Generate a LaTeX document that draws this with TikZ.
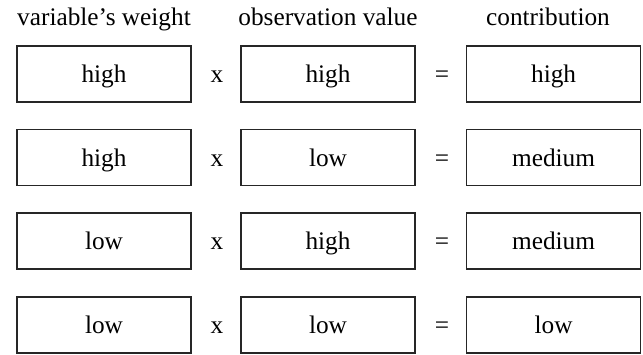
\documentclass[tikz,border=0pt]{standalone}
\usepackage{fontspec}
\setmainfont{Liberation Serif}
\newfontfamily\timesfont{Liberation Serif}
\usepackage{tikz}
\usetikzlibrary{positioning}

\begin{document}
\begin{tikzpicture}[
    font=\timesfont\fontsize{18}{22}\selectfont,
    valbox/.style={
        rectangle,
        draw=black!85,
        line width=1.1pt,
        minimum width=4.35cm,
        minimum height=1.4cm,
        text height=16pt,
        text depth=3.6pt,
        inner sep=0pt
    },
    header/.style={anchor=base},
    op/.style={inner sep=0pt, text height=16pt, text depth=3.6pt}
]
\useasboundingbox (0,0) rectangle (16.075,8.85);

% column headers
\node[header] (hweight)  at (2.6,  8.22)  {variable’s weight};
\node[header] (hobs)     at (8.2,  8.22)  {observation value};
\node[header] (hcontrib) at (13.7, 8.22)  {contribution};

% row 1
\node[valbox] (w1) at (2.6,  7.0) {high};
\node[op]     (x1) at (5.425,7.0) {x};
\node[valbox] (o1) at (8.2,  7.0) {high};
\node[op]     (e1) at (11.05,7.0) {=};
\node[valbox] (c1) at (13.84,7.0) {high};

% row 2
\node[valbox] (w2) at (2.6,  4.91) {high};
\node[op]     (x2) at (5.425,4.91) {x};
\node[valbox] (o2) at (8.2,  4.91) {low};
\node[op]     (e2) at (11.05,4.91) {=};
\node[valbox] (c2) at (13.84,4.91) {medium};

% row 3
\node[valbox] (w3) at (2.6,  2.82) {low};
\node[op]     (x3) at (5.425,2.82) {x};
\node[valbox] (o3) at (8.2,  2.82) {high};
\node[op]     (e3) at (11.05,2.82) {=};
\node[valbox] (c3) at (13.84,2.82) {medium};

% row 4
\node[valbox] (w4) at (2.6,  0.73) {low};
\node[op]     (x4) at (5.425,0.73) {x};
\node[valbox] (o4) at (8.2,  0.73) {low};
\node[op]     (e4) at (11.05,0.73) {=};
\node[valbox] (c4) at (13.84,0.73) {low};

\end{tikzpicture}
\end{document}
